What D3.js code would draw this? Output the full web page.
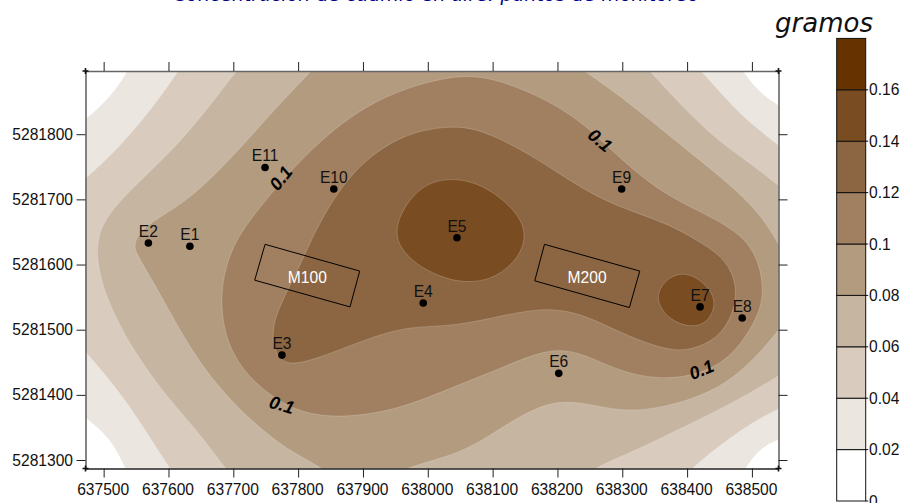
<!DOCTYPE html>
<html><head><meta charset="utf-8">
<script src="https://cdn.jsdelivr.net/npm/d3@7"></script>
<style>html,body{margin:0;padding:0;background:#fff;overflow:hidden}svg{display:block}
text{font-family:"Liberation Sans",Arial,sans-serif}</style></head><body>
<svg id="c" width="903" height="503"></svg>
<script>
// Coordinates are metres, relative to these origins
const E0 = 637000, N0 = 5281000;
const xDomain = [637472, 638541];
const yDomain = [5281287, 5281897];
const xTicks = [637500,637600,637700,637800,637900,638000,638100,638200,638300,638400,638500];
const yTicks = [5281300,5281400,5281500,5281600,5281700,5281800];
const legendLevels = [0,0.02,0.04,0.06,0.08,0.1,0.12,0.14,0.16,0.18];
const legendLabels = ["0","0.02","0.04","0.06","0.08","0.1","0.12","0.14","0.16"];
const bandColors = ["#ffffff","#ebe6e0","#d9ccbf","#c6b5a1","#b39b80","#a08060","#8c6642","#794d21","#663300"];

const c02tl=[[552,930],[538,898],[514,861],[473,822],[440,802]];
const c02tr=[[1462,930],[1486,898],[1507,868],[1540,844],[1574,826]];
const c02bl=[[440,392],[473,364],[510,335],[534,287],[548,253]];
const c02br=[[1574,341],[1540,332],[1512,318],[1489,287],[1469,253]];
const c04tl=[[640,930],[615,898],[582,848],[521,776],[473,733],[440,705]];
const c04tr=[[1390,930],[1421,898],[1461,853],[1497,817],[1540,784],[1574,758]];
const c04bl=[[440,503],[473,465],[510,422],[545,376],[602,287],[624,253]];
const c04br=[[1574,396],[1540,378],[1497,356],[1446,319],[1407,287],[1373,253]];
const c06left=[[735,930],[705,898],[675,858],[613,781],[545,719],[499,668],[490,633],[490,601],[505,545],[545,468],[598,396],[648,341],[687,287],[718,253]];
const c06tr=[[1310,930],[1342,898],[1393,842],[1446,791],[1497,756],[1540,722],[1574,696]];
const c06br=[[1574,450],[1540,428],[1470,387],[1393,350],[1322,315],[1253,287],[1210,253]];
const c08left=[[852,930],[821,898],[767,842],[699,765],[628,695],[565,662],[545,633],[551,615],[582,565],[648,442],[730,356],[792,310],[841,287],[880,253]];
const c08br=[[910,253],[957,287],[1034,305],[1085,330],[1137,365],[1199,395],[1265,382],[1316,373],[1393,387],[1470,419],[1540,495],[1574,545]];
const c08tr=[[1200,930],[1239,898],[1291,864],[1393,781],[1497,699],[1540,638],[1574,560]];
const c10=[[1034,892],[1100,888],[1188,852],[1250,809],[1301,758],[1369,704],[1446,670],[1505,630],[1520,561],[1510,520],[1472,460],[1419,430],[1353,423],[1291,438],[1239,464],[1188,473],[1111,440],[1034,410],[957,378],[869,364],[803,372],[750,402],[695,458],[676,545],[695,625],[730,675],[803,763],[906,852]];
const c12=[[1034,814],[1085,807],[1162,767],[1230,721],[1291,689],[1369,664],[1423,633],[1462,607],[1482,556],[1458,492],[1408,468],[1369,468],[1301,493],[1239,525],[1177,535],[1096,517],[1034,505],[968,505],[906,486],[829,455],[782,444],[764,464],[758,504],[781,556],[807,607],[829,658],[880,743],[957,800]];
const c14a=[[1034,734],[1084,724],[1134,686],[1154,648],[1140,608],[1100,576],[1054,572],[1019,581],[982,600],[958,625],[950,648],[958,681],[990,722]];
const c14b=[[1354,558],[1370,580],[1399,590],[1432,568],[1446,541],[1432,510],[1404,503],[1374,515],[1356,537]];

const stationNames=["E1","E2","E3","E4","E5","E6","E7","E8","E9","E10","E11"];
const stationE=[633,569,775,993,1045,1202,1420,1485,1299,855,749];
const stationN=[628,633,461,541,641,433,535,518,716,716,749];
const m100=[[749,631],[733,576],[880,535],[895,590]];
const m200=[[1180,631],[1165,575],[1311,534],[1327,590]];
const buildingNames=["M100","M200"];
const contourLabelText=["0.1","0.1","0.1","0.1"];
const contourLabelE=[773,1266,775,1422];
const contourLabelN=[733,791,385,439];
const contourLabelAngle=[-52,40,17,-22];

const titleText="Concentración de cadmio en aire: puntos de monitoreo";
const unitText="gramos";

const svg=d3.select("#c");
const x=d3.scaleLinear().domain(xDomain).range([85.5,778.5]);
const y=d3.scaleLinear().domain(yDomain).range([468.5,71]);
const xy=p=>[x(E0+p[0]),y(N0+p[1])];
const open=d3.line().curve(d3.curveBasis);
const closed=d3.line().curve(d3.curveBasisClosed);
const far=60;
const corner={tl:[x.range()[0]-far,y.range()[1]-far],tr:[x.range()[1]+far,y.range()[1]-far],
  bl:[x.range()[0]-far,y.range()[0]+far],br:[x.range()[1]+far,y.range()[0]+far]};
const outer=`M${corner.tl}L${corner.tr}L${corner.br}L${corner.bl}Z`;
const cut=(arc,...cs)=>open(arc.map(xy))+cs.map(k=>"L"+corner[k]).join("")+"Z";
const island=arc=>closed(arc.map(xy));

svg.append("clipPath").attr("id","plot").append("rect")
  .attr("x",x.range()[0]).attr("y",y.range()[1])
  .attr("width",x.range()[1]-x.range()[0]).attr("height",y.range()[0]-y.range()[1]);

const bands=[
 {c:1,d:outer+cut(c02tl,"tl")+cut(c02tr,"tr")+cut(c02bl,"bl")+cut(c02br,"br")},
 {c:2,d:outer+cut(c04tl,"tl")+cut(c04tr,"tr")+cut(c04bl,"bl")+cut(c04br,"br")},
 {c:3,d:outer+cut(c06left,"bl","tl")+cut(c06tr,"tr")+cut(c06br,"br")},
 {c:4,d:outer+cut(c08left,"bl","tl")+cut(c08tr,"tr")+cut(c08br,"br")},
 {c:5,d:island(c10)},
 {c:6,d:island(c12)},
 {c:7,d:island(c14a)+island(c14b)}
];
const map=svg.append("g").attr("clip-path","url(#plot)");
map.selectAll("path").data(bands).join("path")
  .attr("d",d=>d.d).attr("fill",d=>bandColors[d.c]).attr("fill-rule","evenodd")
  .attr("stroke","#fff").attr("stroke-opacity",0.28).attr("stroke-width",0.7);

// buildings
const bld=svg.append("g");
[m100,m200].forEach((r,i)=>{
  bld.append("path").attr("d",d3.line()(r.map(xy))+"Z").attr("fill","none").attr("stroke","#000").attr("stroke-width",1);
  const cx=d3.mean(r,p=>x(E0+p[0])),cy=d3.mean(r,p=>y(N0+p[1]));
  bld.append("text").attr("x",cx).attr("y",cy+7).attr("text-anchor","middle")
    .attr("fill","#fff").attr("font-size",15.6).text(buildingNames[i]);
});

// axes
const fmt=d3.format("d");
function axis(gen,tx,ty,color){
  const g=svg.append("g").attr("transform",`translate(${tx},${ty})`).call(gen);
  g.select(".domain").attr("stroke",color).attr("stroke-width",1.6);
  g.selectAll(".tick line").attr("stroke","#222").attr("stroke-width",1);
  g.selectAll("text").attr("font-size",15.6).attr("fill","#111").style("font-family",'"Liberation Sans",Arial,sans-serif');
  return g;
}
axis(d3.axisTop(x).tickValues(xTicks).tickSize(9).tickSizeOuter(0).tickFormat(""),0,71,"#666");
axis(d3.axisBottom(x).tickValues(xTicks).tickSize(9).tickSizeOuter(0).tickFormat(fmt).tickPadding(6),0,468.5,"#222")
  .selectAll("text").attr("dx",-1);
axis(d3.axisLeft(y).tickValues(yTicks).tickSize(9).tickSizeOuter(0).tickFormat(fmt).tickPadding(3.5),85.5,0,"#666");
axis(d3.axisRight(y).tickValues(yTicks).tickSize(9).tickSizeOuter(0).tickFormat(""),778.5,0,"#666");
// corner crosses
[[x.range()[0],71],[x.range()[1],71],[x.range()[0],468.5],[x.range()[1],468.5]].forEach(p=>{
  svg.append("path").attr("d",`M${p[0]-3},${p[1]}H${p[0]+3}M${p[0]},${p[1]-3}V${p[1]+3}`)
    .attr("stroke","#111").attr("stroke-width",1.6);
});

// stations
const st=svg.append("g").selectAll("g").data(stationNames).join("g")
  .attr("transform",(d,i)=>`translate(${x(E0+stationE[i])},${y(N0+stationN[i])})`);
st.append("circle").attr("r",3.8).attr("fill","#000");
st.append("text").attr("y",-6).attr("text-anchor","middle").attr("font-size",15.6).attr("fill","#111").text(d=>d);

// contour labels
svg.append("g").selectAll("text").data(contourLabelText).join("text")
  .attr("transform",(d,i)=>`translate(${x(E0+contourLabelE[i])},${y(N0+contourLabelN[i])}) rotate(${contourLabelAngle[i]})`)
  .attr("text-anchor","middle").attr("dy","0.36em")
  .attr("font-size",18).attr("font-weight","bold").attr("font-style","italic").attr("fill","#000").text(d=>d);

// legend
const ly=d3.scaleLinear().domain([0,0.18]).range([501,38.4]);
const lx0=836.7,lx1=865.7;
const leg=svg.append("g");
leg.selectAll("rect").data(bandColors).join("rect")
  .attr("x",lx0).attr("width",lx1-lx0)
  .attr("y",(d,i)=>ly(legendLevels[i+1])).attr("height",(d,i)=>ly(legendLevels[i])-ly(legendLevels[i+1]))
  .attr("fill",d=>d).attr("stroke","#111").attr("stroke-width",1);
leg.selectAll("line").data(legendLevels.slice(0,-1)).join("line")
  .attr("x1",lx1).attr("x2",lx1+2.5).attr("y1",d=>ly(d)).attr("y2",d=>ly(d)).attr("stroke","#111");
leg.selectAll("text").data(legendLabels).join("text")
  .attr("x",869).attr("y",(d,i)=>ly(legendLevels[i])).attr("dy","0.36em")
  .attr("font-size",15.6).attr("fill","#111").text(d=>d);

svg.append("text").attr("x",824).attr("y",32).attr("text-anchor","middle")
  .style("font-family",'"DejaVu Sans",sans-serif').attr("font-style","italic").attr("font-size",26).attr("fill","#111").text(unitText);
svg.append("text").attr("x",173).attr("y",0.6)
  .style("font-family",'"DejaVu Sans",sans-serif').attr("font-style","italic").attr("font-size",19).attr("fill","#00008b").text(titleText);
</script></body></html>
